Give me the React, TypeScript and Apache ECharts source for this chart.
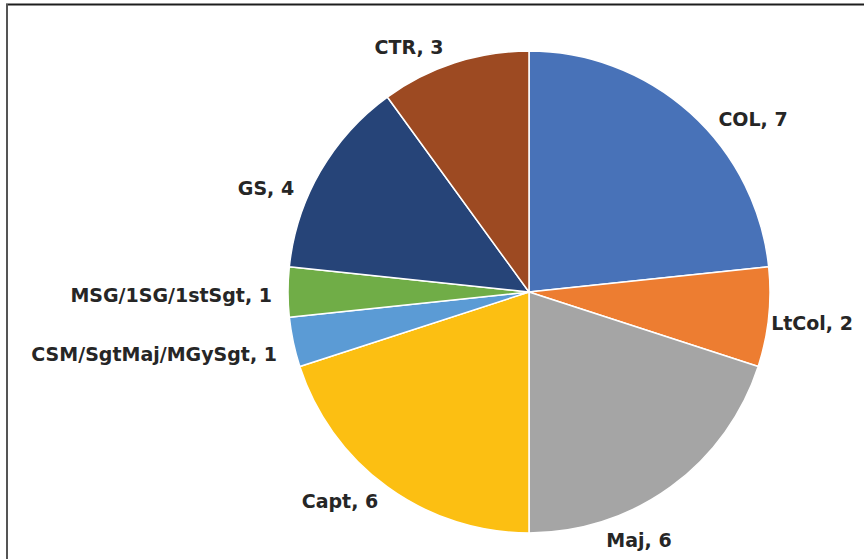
import React, { useEffect, useRef } from "react";
import * as echarts from "echarts";

const categories = ["COL", "LtCol", "Maj", "Capt", "CSM/SgtMaj/MGySgt", "MSG/1SG/1stSgt", "GS", "CTR"];
const values = [7, 2, 6, 6, 1, 1, 4, 3];
const colors = ["#4872B8", "#ED7D31", "#A5A5A5", "#FCBF12", "#5B9BD5", "#70AD47", "#264478", "#9D4A22"];
// label anchor positions (layout only): [x, y, align]
const labelAnchors: [number, number, string][] = [
  [753, 119, "center"],
  [812, 323, "center"],
  [639, 540, "center"],
  [340, 501, "center"],
  [277, 354, "right"],
  [272, 295, "right"],
  [266, 188, "center"],
  [409, 47, "center"],
];

export default function App() {
  const ref = useRef<HTMLDivElement>(null);
  useEffect(() => {
    document.body.style.margin = "0";
    const chart = echarts.init(ref.current!, undefined, { renderer: "svg" });
    chart.setOption({
      animation: false,
      backgroundColor: "#ffffff",
      graphic: [
        { type: "line", shape: { x1: 6, y1: 4.5, x2: 864, y2: 4.5 }, style: { stroke: "#1e1e1e", lineWidth: 2 } },
        { type: "line", shape: { x1: 7, y1: 4, x2: 7, y2: 559 }, style: { stroke: "#555", lineWidth: 2 } },
      ],
      series: [
        {
          type: "pie",
          center: [529, 292],
          radius: 241,
          startAngle: 90,
          clockwise: true,
          data: categories.map((c, i) => ({ name: c, value: values[i], itemStyle: { color: colors[i] } })),
          itemStyle: { borderColor: "#ffffff", borderWidth: 1.5 },
          label: {
            show: true,
            position: "outside",
            formatter: "{b}, {c}",
            fontFamily: "DejaVu Sans",
            fontWeight: "bold",
            fontSize: 19,
            color: "#262626",
            overflow: "none",
          },
          labelLine: { show: false },
          labelLayout: (p: any) => {
            const a = labelAnchors[p.dataIndex];
            return { x: a[0], y: a[1], align: a[2], verticalAlign: "middle", hideOverlap: false, moveOverlap: undefined };
          },
        },
      ],
    });
    return () => chart.dispose();
  }, []);
  return <div ref={ref} style={{ position: "fixed", left: 0, top: 0, width: 864, height: 559 }} />;
}
